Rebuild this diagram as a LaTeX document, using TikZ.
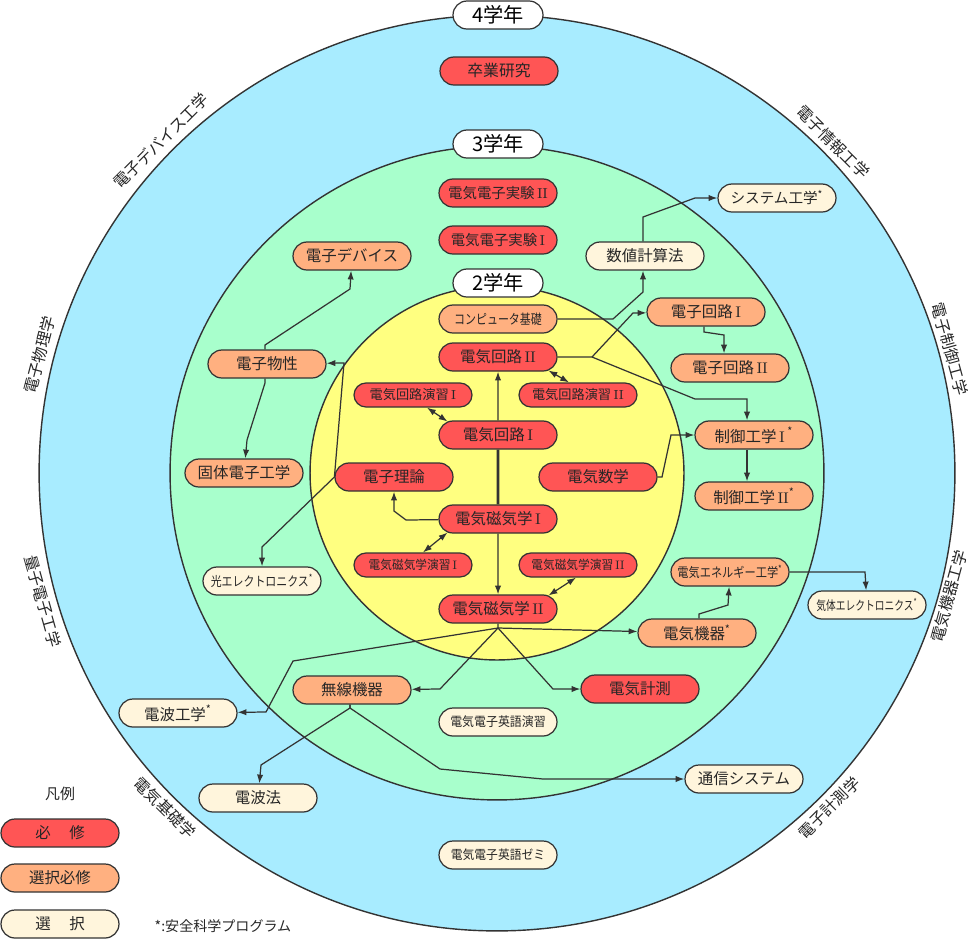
\documentclass[tikz,border=0pt]{standalone}
\usepackage{fontspec}
\setmainfont{Noto Sans CJK JP}
\newfontfamily\lmr{Latin Modern Roman}
\usetikzlibrary{arrows.meta,shapes.misc}

\definecolor{ringA}{HTML}{A8ECFF}
\definecolor{ringB}{HTML}{A8FFCC}
\definecolor{ringC}{HTML}{FFFF80}
\definecolor{hissuC}{HTML}{FF5555}
\definecolor{senhissuC}{HTML}{FFB080}
\definecolor{sentakuC}{HTML}{FFF5DC}
\definecolor{lineC}{HTML}{333333}

% Roman numerals and condensed labels
\newcommand{\rI}{\,{\lmr I}}
\newcommand{\rII}{\,{\lmr I\kern-0.02em I}}
\newcommand{\heitai}[2]{\scalebox{#1}[1]{#2}}

\tikzset{
  kamoku/.style={rounded rectangle, draw=lineC, line width=0.7pt, minimum width=2.36cm,
    minimum height=0.56cm, inner sep=0pt, text=black!85, font=\fontsize{8.8}{10}\selectfont},
  hissu/.style={kamoku, fill=hissuC},
  senhissu/.style={kamoku, fill=senhissuC},
  sentaku/.style={kamoku, fill=sentakuC},
  enshu/.style={minimum height=0.48cm},
  fs/.style={font=\fontsize{#1}{#1}\selectfont},
  gakunen/.style={rounded rectangle, draw=lineC, line width=0.7pt, fill=white,
    minimum width=1.8cm, minimum height=0.56cm, inner sep=0pt, font=\fontsize{11.5}{13}\selectfont},
  bunya/.style={inner sep=0pt, text=black!85, font=\fontsize{9}{10}\selectfont},
  ring/.style={draw=lineC, line width=0.8pt},
  sen/.style={draw=lineC, line width=0.7pt},
}

\begin{document}
\begin{tikzpicture}[x=0.02cm, y=-0.02cm, >={Latex[length=5pt,width=3.6pt]}]
  \useasboundingbox (0,0) rectangle (969,940);

  % ==========================================
  % Rings (4年 / 3年 / 2年)
  % ==========================================
  \coordinate (C) at (497,473);
  \filldraw[ring, fill=ringA] (C) circle (9.16cm);
  \filldraw[ring, fill=ringB] (C) circle (6.54cm);
  \filldraw[ring, fill=ringC] (C) circle (3.74cm);

  \node[gakunen] (g4) at (498,15) {4学年};
  \node[gakunen] (g3) at (498,144) {3学年};
  \node[gakunen] (g2) at (498,283) {2学年};

  % Fields around the outer ring
  \node[bunya, rotate=45]    (f1) at (161,141) {電子デバイス工学};
  \node[bunya, rotate=-45]   (f2) at (833,142) {電子情報工学};
  \node[bunya, rotate=75.5]  (f3) at (40,355)  {電子物理学};
  \node[bunya, rotate=-74.2] (f4) at (43,601)  {量子電子工学};
  \node[bunya, rotate=-74.7] (f5) at (950,349) {電子制御工学};
  \node[bunya, rotate=74.8]  (f6) at (949,596) {電気機器工学};
  \node[bunya, rotate=44.7]  (f7) at (829,808) {電子計測学};
  \node[bunya, rotate=-44.7] (f8) at (165,808) {電気基礎学};

  % ==========================================
  % 4学年
  % ==========================================
  \node[hissu, fs=9] (sotsuken) at (499,71) {卒業研究};
  \node[sentaku, fs=7.3] (kitai) at (867,605) {\heitai{0.76}{気体エレクトロニクス\textsuperscript{*}}};
  \node[sentaku] (tsushin) at (744,779) {通信システム};
  \node[sentaku] (denpaH) at (258,798) {電波法};
  \node[sentaku, fs=7.2] (zemi) at (498,855) {\heitai{0.93}{電気電子英語ゼミ}};

  % ==========================================
  % 3学年
  % ==========================================
  \node[hissu, fs=8.2] (jikken2) at (498,193) {電気電子実験\rII};
  \node[hissu, fs=8.2] (jikken1) at (498,240) {電気電子実験\rI};
  \node[senhissu] (device) at (352,256) {電子デバイス};
  \node[sentaku] (suchi) at (645,256) {数値計算法};
  \node[sentaku, fs=8.3] (system) at (777,198) {システム工学\textsuperscript{*}};
  \node[senhissu] (ekairo1) at (706,312) {電子回路\rI};
  \node[senhissu] (ekairo2) at (730,368) {電子回路\rII};
  \node[senhissu] (seigyo1) at (754,435) {制御工学\rI\,\textsuperscript{*}};
  \node[senhissu] (seigyo2) at (754,496) {制御工学\rII\textsuperscript{*}};
  \node[senhissu] (bussei) at (267,364) {電子物性};
  \node[senhissu] (kotai) at (244,473) {固体電子工学};
  \node[sentaku, fs=7.5] (hikari) at (262,581) {\heitai{0.83}{光エレクトロニクス\textsuperscript{*}}};
  \node[senhissu, fs=7.5] (energy) at (730,572) {\heitai{0.85}{電気エネルギー工学\textsuperscript{*}}};
  \node[senhissu] (kiki) at (697,633) {電気機器\textsuperscript{*}};
  \node[hissu] (keisoku) at (640,689) {電気計測};
  \node[senhissu] (musen) at (352,690) {無線機器};
  \node[sentaku] (denpaK) at (178,713) {電波工学\textsuperscript{*}};
  \node[sentaku, fs=7.3] (eigo) at (498,722) {\heitai{0.93}{電気電子英語演習}};

  % ==========================================
  % 2学年
  % ==========================================
  \node[senhissu, fs=7.8] (comp) at (498,319) {\heitai{0.8}{コンピュータ基礎}};
  \node[hissu] (kairo2) at (498,357) {電気回路\rII};
  \node[hissu, enshu, fs=7.5] (enshu1) at (413,395) {電気回路演習\rI};
  \node[hissu, enshu, fs=7.5] (enshu2) at (578,395) {電気回路演習\rII};
  \node[hissu] (kairo1) at (498,435) {電気回路\rI};
  \node[hissu] (riron) at (394,477) {電子理論};
  \node[hissu] (sugaku) at (598,477) {電気数学};
  \node[hissu] (denjiki1) at (498,519) {電気磁気学\rI};
  \node[hissu, enshu, fs=7] (jenshu1) at (413,565) {\heitai{0.95}{電気磁気学演習\rI}};
  \node[hissu, enshu, fs=7] (jenshu2) at (578,565) {\heitai{0.95}{電気磁気学演習\rII}};
  \node[hissu] (denjiki2) at (498,609) {電気磁気学\rII};

  % ==========================================
  % Connections
  % ==========================================
  \draw[sen, ->] (kairo1) -- (kairo2);
  \draw[sen, line width=1.5pt] (denjiki1) -- (kairo1);
  \draw[sen, ->] (denjiki1) -- (denjiki2);
  \draw[sen, <->] ([xshift=0.28cm]enshu1.south) -- (kairo1.165);
  \draw[sen, <->] ([xshift=-0.18cm]enshu2.north) -- (kairo2.-15);
  \draw[sen, <->] ([xshift=0.2cm]jenshu1.north) -- (denjiki1.195);
  \draw[sen, <->] ([xshift=-0.04cm]jenshu2.south) -- (denjiki2.15);
  \draw[sen, ->] (denjiki1) -- (406,520) -- (394,511) -- (riron);
  \draw[sen, ->] (sugaku) -- (662,477) -- (671,435) -- (seigyo1);

  % 電気回路II から
  \coordinate (b1) at (592,357);
  \draw[sen] (kairo2) -- (b1);
  \draw[sen, ->] (b1) -- (633,313) -- (ekairo1);
  \draw[sen, ->] (b1) -- (695,399) -- (747,399) -- (747,399 |- seigyo1.north);
  \draw[sen, ->] (ekairo1.south -| 704,0) -- (704,332) -- (724,335) -- (724,335 |- ekairo2.north);
  \draw[sen, ->] (seigyo1.south -| 747,0) -- (seigyo2.north -| 747,0);

  \draw[sen, ->] (comp) -- (613,319) -- (643,292) -- (643,292 |- suchi.south);
  \draw[sen, ->] (suchi.north -| 643,0) -- (643,217) -- (695,198) -- (system);

  % 電子理論から
  \draw[sen, ->] (riron.west) -- (344,363) -- (bussei);
  \draw[sen, ->] (riron.west) -- (262,547) -- (hikari);
  \draw[sen, ->] (bussei.north -| 265,0) -- (265,345) -- (350,289) -- (device);
  \draw[sen, ->] (bussei.south -| 265,0) -- (265,383) -- (247,440) -- (kotai);

  % 電気磁気学II から
  \coordinate (b3) at (498,628);
  \draw[sen] (denjiki2) -- (b3);
  \draw[sen, ->] (b3) -- (kiki);
  \draw[sen, ->] (b3) -- (293,661) -- (266,712) -- (denpaK);
  \draw[sen, ->] (b3) -- (440,689) -- (musen);
  \draw[sen, ->] (b3) -- (553,689) -- (keisoku);

  \draw[sen, ->] (kiki.north -| 699,0) -- (699,614) -- (728,605) -- (energy);
  \draw[sen, ->] (energy) -- (865,572) -- (kitai);

  % 無線機器から
  \draw[sen, ->] (musen.south -| 350,0) -- (350,708) -- (261,765) -- (denpaH);
  \draw[sen, ->] (musen.south -| 350,0) -- (350,708) -- (440,769) -- (543,779) -- (tsushin);

  % ==========================================
  % 凡例
  % ==========================================
  \node[text=black!85, font=\fontsize{8.5}{10}\selectfont] (hanrei) at (60,794) {凡例};
  \node[hissu] (leg1) at (60,833) {必\hspace{1.2em}修};
  \node[senhissu] (leg2) at (60,878) {選択必修};
  \node[sentaku] (leg3) at (60,924) {選\hspace{1.2em}択};
  \node[text=black!85, font=\fontsize{8}{9}\selectfont] (chu) at (223,926) {*:安全科学プログラム};

\end{tikzpicture}
\end{document}
